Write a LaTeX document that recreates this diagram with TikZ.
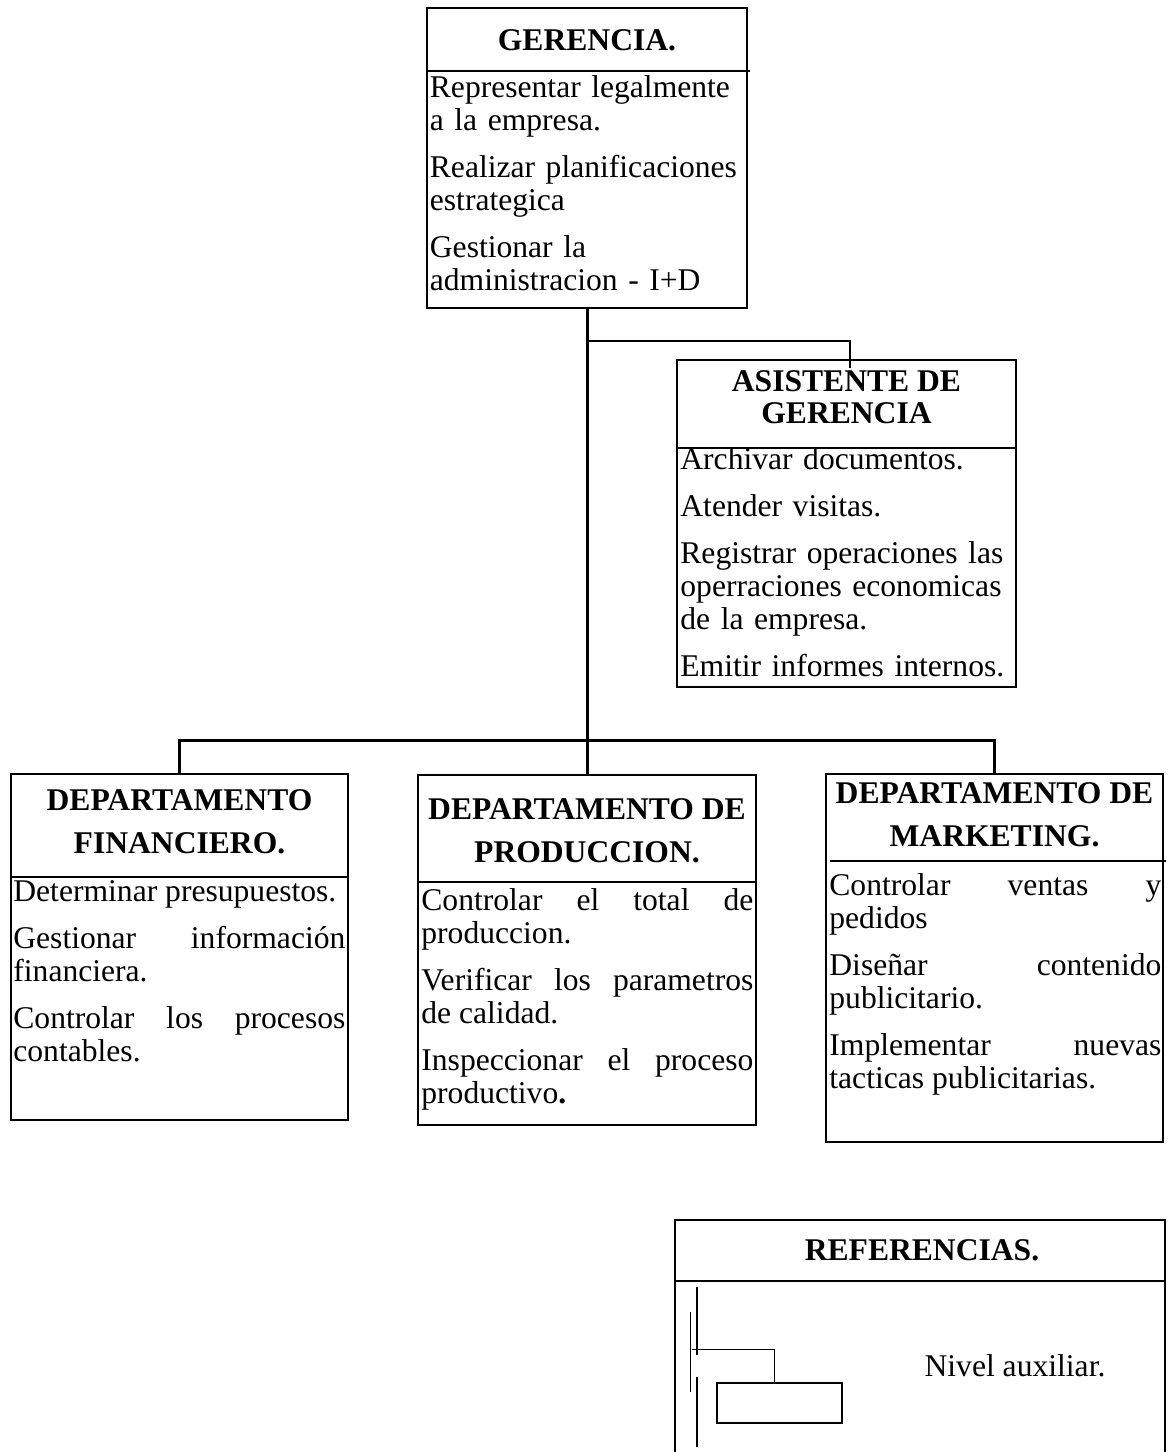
\documentclass[tikz,border=0pt]{standalone}
\usepackage{fontspec}
\setmainfont{Liberation Serif}

\begin{document}
\begin{tikzpicture}[x=0.5pt, y=-0.5pt]
\tikzstyle{box}=[draw, line width=1.4pt, inner sep=0pt]
\tikzstyle{divider}=[line width=0.65pt]
\tikzstyle{head}=[inner sep=0pt, align=center, font={\fontsize{15.8}{21.5}\selectfont\bfseries}]
\tikzstyle{duty}=[anchor=north west, inner sep=0pt, text width=166pt, align=justify,
  font={\fontsize{15.8}{16.5}\selectfont\parindent=0pt\setlength{\parskip}{7pt}\hyphenpenalty=10000\tolerance=9999\relax}]
\tikzstyle{link}=[line width=1.5pt]
\useasboundingbox (0,0) rectangle (1169,1452);

% cajas
\node[box, minimum width=160pt, minimum height=150pt] (ger) at (587,158) {};
\node[box, minimum width=169.5pt, minimum height=163.5pt] (asis) at (846.5,523.5) {};
\node[box, minimum width=168.5pt, minimum height=173pt] (fin) at (179.5,947) {};
\node[box, minimum width=169pt, minimum height=175pt] (prod) at (587,950) {};
\node[box, minimum width=168.5pt, minimum height=184pt] (mkt) at (994.5,958) {};
\node[box, minimum width=245pt, minimum height=118pt] (ref) at (920,1338) {};

\draw[divider] (427,71) -- (750,71);
\draw[divider] (677,448) -- (1016,448);
\draw[divider] (11,877) -- (348,877);
\draw[divider] (418,882) -- (756,882);
\draw[divider] (830,861) -- (1166,861);
\draw[divider] (675,1281) -- (1165,1281);

% titulos
\node[head] (gerhead) at (587,40) {GERENCIA.};
\node[head, font={\fontsize{15.8}{16}\selectfont\bfseries}] (asishead) at (846.5,397) {ASISTENTE DE\\GERENCIA};
\node[head] (finhead) at (179.5,822) {DEPARTAMENTO\\FINANCIERO.};
\node[head] (prodhead) at (587,831) {DEPARTAMENTO DE\\PRODUCCION.};
\node[head] (mkthead) at (994.5,815) {DEPARTAMENTO DE\\MARKETING.};
\node[head] (refhead) at (922,1250) {REFERENCIAS.};

% funciones
\node[duty, align=left, text width=160pt] (gerduty) at (429.5,73) {\rule{0pt}{12pt}Representar legalmente\newline a la empresa.\par Realizar planificaciones\newline estrategica\par Gestionar la\newline administracion - I+D};
\node[duty, align=left] (asisduty) at (680,445) {\rule{0pt}{12pt}Archivar documentos.\par Atender visitas.\par Registrar operaciones las\newline operraciones economicas\newline de la empresa.\par Emitir informes internos.};
\node[duty] (finduty) at (13,877) {\rule{0pt}{12pt}Determinar presupuestos.\par Gestionar información\linebreak financiera.\par Controlar los procesos\linebreak contables.};
\node[duty] (produty) at (421,886) {\rule{0pt}{12pt}Controlar el total de\linebreak produccion.\par Verificar los parametros\linebreak de calidad.\par Inspeccionar el proceso\linebreak productivo\textbf{.}};
\node[duty] (mktduty) at (829,871) {\rule{0pt}{12pt}Controlar ventas y\linebreak pedidos\par Diseñar contenido\linebreak publicitario.\par Implementar nuevas\linebreak tacticas publicitarias.};

% lineas de mando
\coordinate (bus) at (587,740);
\coordinate (tap) at (589,341);
\coordinate (asisin) at (850,368);
\draw[link] (ger) -- (prod);
\draw[link] (fin.north) |- (bus) -| (mkt.north);
\draw[line width=0.7pt] (tap) -| (asisin);

% leyenda
\node[draw, line width=1.2pt, minimum width=62.5pt, minimum height=20pt, inner sep=0pt] (aux) at (779.5,1403) {};
\draw[line width=1pt] (697,1287) -- (697,1355) (697,1377) -- (697,1447);
\draw[line width=0.5pt] (690,1312) -- (690,1392);
\draw[line width=0.5pt] (692,1349) -| ([xshift=-2.75pt]aux.north);
\node[inner sep=0pt, font={\fontsize{15.8}{16.5}\selectfont}] (auxlabel) at (1015,1366) {Nivel auxiliar.};
\end{tikzpicture}
\end{document}
